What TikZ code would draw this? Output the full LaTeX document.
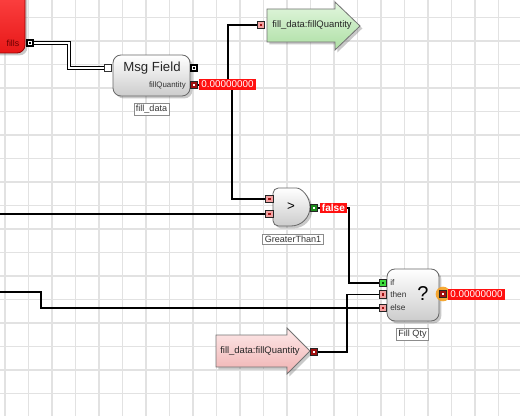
\documentclass[tikz,border=0pt]{standalone}
\usepackage{fontspec}
\setmainfont{Liberation Sans}
\usetikzlibrary{shadows}
\definecolor{gridc}{HTML}{E2E2E2}
\definecolor{portpink}{HTML}{F4A3A3}
\definecolor{portdark}{HTML}{A01010}
\definecolor{portgreen}{HTML}{1E8C1E}
\definecolor{portlime}{HTML}{40DD40}
\definecolor{valred}{HTML}{FF1010}
\definecolor{noderedT}{HTML}{FF4848}
\definecolor{noderedB}{HTML}{E81818}
\definecolor{arrgreenT}{HTML}{E2F6DE}
\definecolor{arrgreenB}{HTML}{ADDFA4}
\definecolor{arrpinkT}{HTML}{FDE9E9}
\definecolor{arrpinkB}{HTML}{F0B2B2}
\definecolor{glow}{HTML}{F5A020}
\begin{document}
\begin{tikzpicture}[x=0.75pt,y=-0.75pt,
  gridline/.style={draw=gridc, line width=1.1pt},
  wire/.style={draw=black, line width=1.4pt},
  dbl/.style={draw=black, line width=0.8pt, double=white, double distance=1.4pt, line join=miter},
  cdot/.style={path picture={\fill[#1] ([xshift=-0.9pt,yshift=-0.9pt]path picture bounding box.center) rectangle ([xshift=0.9pt,yshift=0.9pt]path picture bounding box.center);}},
  port/.style={rectangle, draw=black!85, line width=0.6pt, minimum size=5.8pt, inner sep=0pt},
  pinkport/.style={port, fill=portpink, cdot=portdark},
  redport/.style={port, fill=portdark, cdot=white},
  greenport/.style={port, fill=portgreen, cdot=white},
  limeport/.style={port, fill=portlime, cdot=black!70!green},
  busport/.style={rectangle, draw=black, line width=1.2pt, fill=white, minimum size=4.8pt, inner sep=0pt, cdot=black},
  inport/.style={rectangle, draw=black!80, line width=0.9pt, fill=white, minimum size=5.4pt, inner sep=0pt},
  shade/.style={drop shadow={shadow xshift=1.8pt, shadow yshift=-1.8pt, opacity=0.35, fill=black!60}},
  nodebox/.style={shade, rectangle, draw=black!60, line width=0.6pt, rounded corners=6pt, top color=white, bottom color=black!20},
  caption/.style={rectangle, draw=black!45, fill=white, line width=0.5pt, inner xsep=1.5pt, inner ysep=1.3pt, text=black!80, font=\fontsize{6.8}{8}\selectfont},
  vlabel/.style={rectangle, fill=valred, text=white, inner xsep=1.6pt, inner ysep=0pt, minimum height=8.2pt, font=\fontsize{7.4}{8}\selectfont},
  small/.style={font=\fontsize{6.2}{7}\selectfont, text=black!80},
  arrtxt/.style={font=\fontsize{7.1}{8}\selectfont, text=black!85}
]
\useasboundingbox (0,0) rectangle (520,416);
\begin{scope}
\clip (0,0) rectangle (520,416);
\fill[white] (0,0) rectangle (520,416);
\foreach \i in {0,...,22} \draw[gridline] (5+23.5*\i,0) -- (5+23.5*\i,416);
\foreach \j in {0,...,18} \draw[gridline] (0,-6+23.5*\j) -- (520,-6+23.5*\j);
% red source node
\node[shade, rectangle, draw=black!40!red, line width=0.6pt, rounded corners=6pt, top color=noderedT, bottom color=noderedB, minimum width=30pt, minimum height=51pt] (src) at (5,19) {};
\end{scope}
\coordinate (L1) at (-5,214);
\coordinate (L2) at (-5,292);
\node[anchor=east, text=black!60!red, font=\fontsize{6.6}{7}\selectfont] (fillst) at (24,43) {fills};

% Msg Field
\node[nodebox, minimum width=57.75pt, minimum height=30.75pt] (mf) at (151.5,75.5) {};
\node[font=\fontsize{9.9}{11}\selectfont, text=black!85] (mft) at (152,68) {Msg Field};
\node[anchor=east, small, font=\fontsize{5.9}{7}\selectfont, inner sep=0pt] (mfql) at (186,85) {fillQuantity};
\node[caption] (mfcap) at (151.5,109.5) {fill\_data};

% top arrow (green)
\path[shade, draw=black!55, line width=0.6pt, top color=arrgreenT, bottom color=arrgreenB]
  (267,9) -- (335,9) -- (335,2) -- (360,26) -- (335,50) -- (335,42) -- (267,42) -- cycle;
\node[arrtxt] (toparr) at (312,25.5) {fill\_data:fillQuantity};

% bottom arrow (pink)
\path[shade, draw=black!55, line width=0.6pt, top color=arrpinkT, bottom color=arrpinkB]
  (216,335) -- (287,335) -- (287,328) -- (310,351) -- (287,374) -- (287,367) -- (216,367) -- cycle;
\node[arrtxt] (botarr) at (260,351) {fill\_data:fillQuantity};

% GreaterThan gate
\path[shade, draw=black!60, line width=0.6pt, top color=white, bottom color=black!20]
  (291,188) .. controls (301.5,188) and (310,196.5) .. (310,207)
  .. controls (310,217.5) and (301.5,226) .. (291,226)
  [rounded corners=4pt] -- (273,226) -- (273,188) -- cycle;
\node[font=\fontsize{10}{11}\selectfont] (gt) at (291,206.5) {>};
\node[caption] (gtcap) at (293,239) {GreaterThan1};

% Fill Qty
\node[nodebox, minimum width=39pt, minimum height=39pt] (fq) at (413,295) {};
\node[font=\fontsize{15}{16}\selectfont] (qm) at (423,294) {?};
\node[anchor=west, small, inner sep=0pt] (lif) at (390,283) {if};
\node[anchor=west, small, inner sep=0pt] (lthen) at (390,294.5) {then};
\node[anchor=west, small, inner sep=0pt] (lelse) at (390,308) {else};
\node[caption] (fqcap) at (412.5,334) {Fill Qty};

% ports
\node[busport] (fillsp) at (30,43) {};
\node[inport] (mfin) at (108,68) {};
\node[busport] (mfbus) at (194,68) {};
\node[redport] (mfq) at (194,85) {};
\node[pinkport] (topin) at (261,25) {};
\node[pinkport] (gtin1) at (269.5,199) {};
\node[pinkport] (gtin2) at (269.5,214) {};
\node[greenport] (gtout) at (314,208) {};
\node[limeport] (ifp) at (383,283) {};
\node[pinkport] (thenp) at (383,294.5) {};
\node[pinkport] (elsep) at (383,308) {};
\node[redport] (botout) at (314,352) {};

% connectors (node to node)
\draw[dbl] (fillsp.east) -- (69,43) |- (mfin.west);
\draw[wire] (mfq.east) -- (228,85) |- (topin.west);
\draw[wire] (mfq.east) -- (232,85) |- (gtin1.west);
\draw[wire] (L1) -- (gtin2.west);
\draw[wire] (gtout.east) -- (349,208) |- (ifp.west);
\draw[wire] (botout.east) -- (347,352) |- (thenp.west);
\draw[wire] (L2) -- (41,292) |- (elsep.west);

% ports redrawn above the wires
\node[busport] at (fillsp) {};
\node[inport] at (mfin) {};
\node[redport] at (mfq) {};
\node[pinkport] at (topin) {};
\node[pinkport] at (gtin1) {};
\node[pinkport] at (gtin2) {};
\node[greenport] at (gtout) {};
\node[limeport] at (ifp) {};
\node[pinkport] at (thenp) {};
\node[pinkport] at (elsep) {};
\node[redport] at (botout) {};
\node[circle, fill=glow, opacity=0.9, minimum size=11pt, inner sep=0pt] (glowc) at (443,294) {};
\node[redport] (fqout) at (443,294) {};

% value labels
\node[vlabel, anchor=west] (v1) at (199,84.5) {0.00000000};
\node[vlabel, anchor=west, font=\bfseries\fontsize{7.6}{8}\selectfont] (v2) at (319.5,208) {false};
\node[vlabel, anchor=west] (v3) at (448,294.5) {0.00000000};
\end{tikzpicture}
\end{document}
